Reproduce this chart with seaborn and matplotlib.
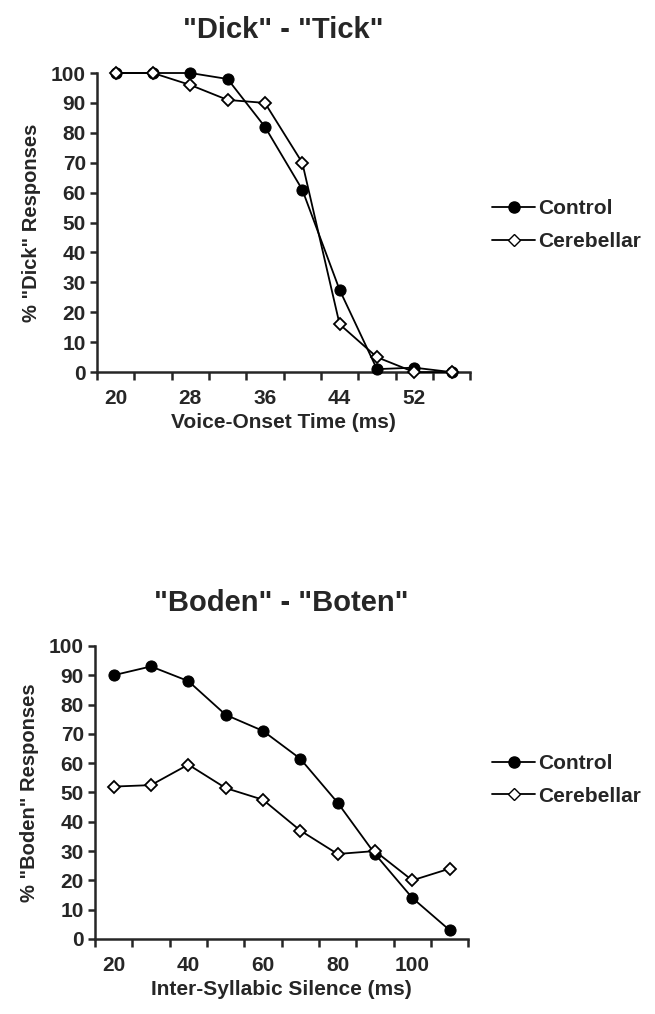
import pandas as pd
import matplotlib
matplotlib.use("Agg")
import matplotlib.pyplot as plt
from matplotlib.lines import Line2D
from matplotlib.ticker import MultipleLocator, FixedLocator
import seaborn as sns

# values
vot_ms = [20, 24, 28, 32, 36, 40, 44, 48, 52, 56]
vot_control = [100, 100, 100, 98, 82, 61, 27.5, 1, 1.5, 0]
vot_cerebellar = [100, 100, 96, 91, 90, 70, 16, 5, 0, 0]
vot_ticks = [20, 28, 36, 44, 52]

sil_ms = [20, 30, 40, 50, 60, 70, 80, 90, 100, 110]
sil_control = [90, 93, 88, 76.5, 71, 61.5, 46.5, 29, 14, 3]
sil_cerebellar = [52, 52.5, 59.5, 51.5, 47.5, 37, 29, 30, 20, 24]
sil_ticks = [20, 40, 60, 80, 100]

groups = ["Control", "Cerebellar"]

sns.set_style("ticks")
plt.rcParams['font.family'] = ['Liberation Sans', 'DejaVu Sans']
plt.rcParams['font.weight'] = 'bold'

fig = plt.figure(figsize=(6.55, 10.14), dpi=100)
ax1 = fig.add_axes([0.148, 0.633, 0.570, 0.295])
ax2 = fig.add_axes([0.145, 0.074, 0.570, 0.289])


def draw_panel(ax, x, ctrl, cereb, xlim, major, minor_step, title, xlabel, ylabel):
    df = pd.DataFrame({
        "x": x * 2,
        "y": ctrl + cereb,
        "group": [groups[0]] * len(x) + [groups[1]] * len(x),
    })
    sns.lineplot(data=df[df.group == "Control"], x="x", y="y", ax=ax, color="black",
                 marker="o", markersize=8, markerfacecolor="black", markeredgecolor="black",
                 linewidth=1.3, clip_on=False, zorder=3, legend=False)
    sns.lineplot(data=df[df.group == "Cerebellar"], x="x", y="y", ax=ax, color="black",
                 marker="D", markersize=6.2, markerfacecolor="white", markeredgecolor="black",
                 markeredgewidth=1.3, linewidth=1.3, clip_on=False, zorder=4, legend=False)
    ax.set_xlim(*xlim)
    ax.set_ylim(0, 100)
    ax.yaxis.set_major_locator(MultipleLocator(10))
    ax.xaxis.set_major_locator(FixedLocator(major))
    ax.xaxis.set_minor_locator(MultipleLocator(minor_step, offset=xlim[0] % minor_step))
    ax.tick_params(axis="x", which="major", length=0, pad=12, labelsize=15)
    ax.tick_params(axis="x", which="minor", length=6, width=1.8, direction="out")
    ax.tick_params(axis="y", length=5, width=1.8, labelsize=15, pad=3)
    for s in ["top", "right"]:
        ax.spines[s].set_visible(False)
    for s in ["left", "bottom"]:
        ax.spines[s].set_linewidth(1.8)
    ax.set_title(title, fontsize=21, fontweight="bold", pad=25)
    ax.set_xlabel(xlabel, fontsize=15, fontweight="bold", labelpad=4)
    ax.set_ylabel(ylabel, fontsize=14.5, fontweight="bold", labelpad=7)


draw_panel(ax1, vot_ms, vot_control, vot_cerebellar, (18, 58), vot_ticks, 4,
           '"Dick" - "Tick"', "Voice-Onset Time (ms)", '% "Dick" Responses')
draw_panel(ax2, sil_ms, sil_control, sil_cerebellar, (15, 115), sil_ticks, 10,
           '"Boden" - "Boten"', "Inter-Syllabic Silence (ms)", '% "Boden" Responses')

handles = [
    Line2D([], [], color="black", marker="o", markersize=8, linewidth=1.3),
    Line2D([], [], color="black", marker="D", markersize=6.2, markerfacecolor="white", linewidth=1.3),
]
for yc in [0.778, 0.231]:
    fig.legend(handles, groups, loc="center left", bbox_to_anchor=(0.722, yc),
               frameon=False, handlelength=2.1, handletextpad=0.15,
               labelspacing=0.65, prop={"weight": "bold", "size": 15})

fig.savefig("out.png", dpi=100, facecolor="white")
